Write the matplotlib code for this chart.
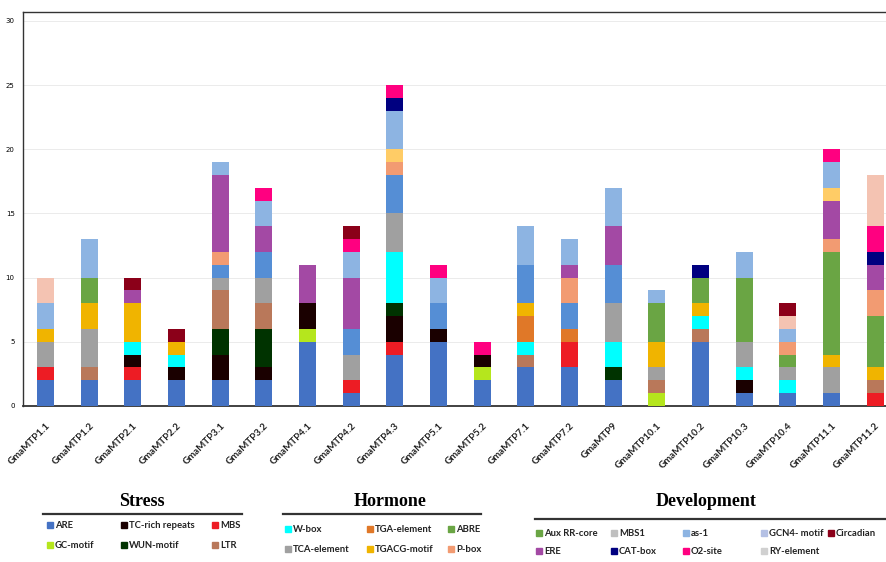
import matplotlib
matplotlib.use("Agg")
import matplotlib.pyplot as plt
from matplotlib.patches import Rectangle
import numpy as np

# genes on the x axis
genes = ["GmaMTP1.1", "GmaMTP1.2", "GmaMTP2.1", "GmaMTP2.2", "GmaMTP3.1",
         "GmaMTP3.2", "GmaMTP4.1", "GmaMTP4.2", "GmaMTP4.3", "GmaMTP5.1",
         "GmaMTP5.2", "GmaMTP7.1", "GmaMTP7.2", "GmaMTP9", "GmaMTP10.1",
         "GmaMTP10.2", "GmaMTP10.3", "GmaMTP10.4", "GmaMTP11.1", "GmaMTP11.2"]

# element counts per gene, in stacking order (bottom -> top)
ARE         = [2, 2, 2, 2, 2, 2, 5, 1, 4, 5, 2, 3, 3, 2, 0, 5, 1, 1, 1, 0]
GC_motif    = [0, 0, 0, 0, 0, 0, 1, 0, 0, 0, 1, 0, 0, 0, 1, 0, 0, 0, 0, 0]
MBS         = [1, 0, 1, 0, 0, 0, 0, 1, 1, 0, 0, 0, 2, 0, 0, 0, 0, 0, 0, 1]
TC_rich     = [0, 0, 1, 1, 2, 1, 2, 0, 2, 1, 1, 0, 0, 0, 0, 0, 1, 0, 0, 0]
WUN_motif   = [0, 0, 0, 0, 2, 3, 0, 0, 1, 0, 0, 0, 0, 1, 0, 0, 0, 0, 0, 0]
LTR         = [0, 1, 0, 0, 3, 2, 0, 0, 0, 0, 0, 1, 0, 0, 1, 1, 0, 0, 0, 1]
W_box       = [0, 0, 1, 1, 0, 0, 0, 0, 4, 0, 0, 1, 0, 2, 0, 1, 1, 1, 0, 0]
TCA_element = [2, 3, 0, 0, 1, 2, 0, 2, 3, 0, 0, 0, 0, 3, 1, 0, 2, 1, 2, 0]
TGA_element = [0, 0, 0, 0, 0, 0, 0, 0, 0, 0, 0, 2, 1, 0, 0, 0, 0, 0, 0, 0]
TGACG_motif = [1, 2, 3, 1, 0, 0, 0, 0, 0, 0, 0, 1, 0, 0, 2, 1, 0, 0, 1, 1]
ABRE        = [0, 2, 0, 0, 0, 0, 0, 0, 0, 0, 0, 0, 0, 0, 3, 2, 5, 1, 8, 4]
as_1        = [0, 0, 0, 0, 1, 2, 0, 2, 3, 2, 0, 3, 2, 3, 0, 0, 0, 0, 0, 0]
P_box       = [0, 0, 0, 0, 1, 0, 0, 0, 1, 0, 0, 0, 2, 0, 0, 0, 0, 1, 1, 2]
ERE         = [0, 0, 1, 0, 6, 2, 3, 4, 0, 0, 0, 0, 1, 3, 0, 0, 0, 0, 3, 2]
MBS1        = [0, 0, 0, 0, 0, 0, 0, 0, 1, 0, 0, 0, 0, 0, 0, 0, 0, 0, 1, 0]
GCN4_motif  = [2, 3, 0, 0, 1, 2, 0, 2, 3, 2, 0, 3, 2, 3, 1, 0, 2, 1, 2, 0]
CAT_box     = [0, 0, 0, 0, 0, 0, 0, 0, 1, 0, 0, 0, 0, 0, 0, 1, 0, 0, 0, 1]
O2_site     = [0, 0, 0, 0, 0, 1, 0, 1, 1, 1, 1, 0, 0, 0, 0, 0, 0, 0, 1, 2]
RY_element  = [2, 0, 0, 0, 0, 0, 0, 0, 0, 0, 0, 0, 0, 0, 0, 0, 0, 1, 0, 4]
Circadian   = [0, 0, 1, 1, 0, 0, 0, 1, 0, 0, 0, 0, 0, 0, 0, 0, 0, 1, 0, 0]

series = [
    (ARE, "#4472C4"), (GC_motif, "#B5E61D"), (MBS, "#ED1C24"),
    (TC_rich, "#1A0000"), (WUN_motif, "#003300"), (LTR, "#B9785A"),
    (W_box, "#00FFFF"), (TCA_element, "#A0A0A0"), (TGA_element, "#E07828"),
    (TGACG_motif, "#F0B400"), (ABRE, "#6AA544"), (as_1, "#558ED5"),
    (P_box, "#F29B72"), (ERE, "#A349A4"), (MBS1, "#FFCC66"),
    (GCN4_motif, "#8DB4E2"), (CAT_box, "#000080"), (O2_site, "#FF0080"),
    (RY_element, "#F4C3B2"), (Circadian, "#8B0019"),
]

# legend groups: (label, colour)
stress_items = [("ARE", "#4472C4"), ("TC-rich repeats", "#1A0000"), ("MBS", "#ED1C24"),
                ("GC-motif", "#B5E61D"), ("WUN-motif", "#003300"), ("LTR", "#B9785A")]
hormone_items = [("W-box", "#00FFFF"), ("TGA-element", "#E07828"), ("ABRE", "#6AA544"),
                 ("TCA-element", "#A0A0A0"), ("TGACG-motif", "#F0B400"), ("P-box", "#F29B72")]
dev_items = [("Aux RR-core", "#6AA544"), ("MBS1", "#BFBFBF"), ("as-1", "#8DB4E2"),
             ("GCN4- motif", "#B4C0E4"), ("Circadian", "#8B0019"),
             ("ERE", "#A349A4"), ("CAT-box", "#000080"), ("O2-site", "#FF0080"),
             ("RY-element", "#D0D0D0")]

fig = plt.figure(figsize=(8.86, 5.62), dpi=100)
ax = fig.add_axes([23 / 886, 1 - 406 / 562, 1 - 23 / 886, (406 - 12) / 562])

x = np.arange(len(genes))
bottom = np.zeros(len(genes))
for vals, col in series:
    vals = np.array(vals, dtype=float)
    ax.bar(x, vals, width=0.39, bottom=bottom, color=col, zorder=3)
    bottom += vals

ax.set_xlim(-0.515, 19.25)
ax.set_ylim(0, 30.7)
ax.set_yticks(range(0, 31, 5))
ax.tick_params(axis="y", labelsize=5, length=0, pad=6)
ax.tick_params(axis="x", length=0, pad=11)
ax.set_xticks(x)
ax.set_xticklabels(genes, rotation=45, ha="right", va="top", rotation_mode="anchor",
                   fontsize=7.0, fontweight="bold", family="Lato", color="#222222")
ax.grid(axis="y", color="#E8E8E8", linewidth=0.6, zorder=0)
ax.spines["right"].set_visible(False)
for s in ("left", "bottom", "top"):
    ax.spines[s].set_color("#333333")
    ax.spines[s].set_linewidth(1.0)
ax.spines["bottom"].set_linewidth(1.3)

# legend panel drawn in pixel coordinates
lg = fig.add_axes([0, 0, 1, 1], zorder=5)
lg.set_xlim(0, 886)
lg.set_ylim(562, 0)
lg.axis("off")


def draw_group(title, tx, ty, line_x0, line_x1, line_y, items, cols, rows_y):
    lg.text(tx, ty, title, ha="center", va="center", fontsize=13,
            fontweight="bold", family="Liberation Serif")
    lg.plot([line_x0, line_x1], [line_y, line_y], color="#333333", lw=1.6)
    ncol = len(cols)
    for i, (name, col) in enumerate(items):
        cx = cols[i % ncol]
        cy = rows_y[i // ncol]
        lg.add_patch(Rectangle((cx, cy - 3), 6, 6, color=col))
        lg.text(cx + 8, cy, name, ha="left", va="center", fontsize=6.8,
                fontweight="bold", family="Lato", color="#222222")


draw_group("Stress", 142, 501, 43, 242, 514, stress_items,
           [47, 121, 212], [525, 545])
draw_group("Hormone", 390, 502, 283, 481, 514, hormone_items,
           [285, 367, 448], [529, 549])
draw_group("Development", 706, 502, 535, 886, 519, dev_items,
           [536, 611, 683, 761, 828], [533, 551])

fig.savefig("out.png", dpi=100)
